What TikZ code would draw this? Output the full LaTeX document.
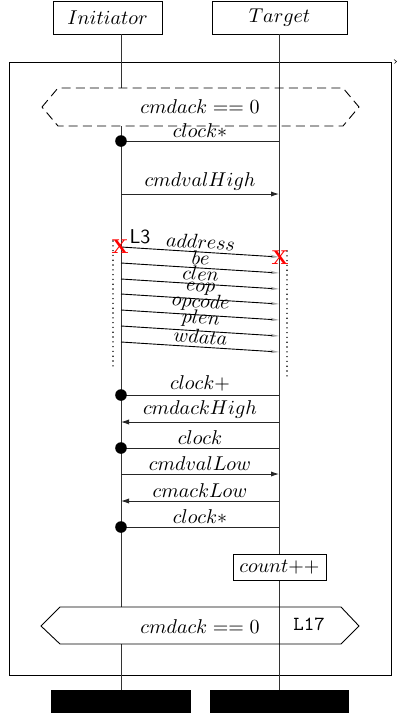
\documentclass[tikz,border=0pt]{standalone}
\usetikzlibrary{arrows.meta}
\begin{document}
\begin{tikzpicture}[x=0.5pt,y=-0.5pt,
  objbox/.style={draw, line width=0.4pt, minimum height=16.5pt, inner sep=0pt},
  life/.style={line width=0.45pt, draw=black!80},
  msg/.style={line width=0.45pt, draw=black!85},
  sync/.style={msg, -{Latex[length=4pt,width=2.6pt]}},
  fan/.style={line width=0.45pt, -{Stealth[length=4.5pt,width=1.8pt,color=black!35,fill=black!35]}},
  lbl/.style={midway, anchor=south, inner sep=1.5pt},
  hit/.style={circle, fill=black, minimum size=5.8pt, inner sep=0pt},
  cross/.style={text=red, font=\bfseries, inner sep=0pt},
  guard/.style={line width=0.45pt},
  dotline/.style={line width=0.8pt, line cap=round, dash pattern=on 0pt off 2.4pt},
  endbar/.style={fill=black, minimum height=11.5pt, inner sep=0pt}]
\useasboundingbox (0,0) rectangle (398,714);

% participants
\node[objbox, minimum width=54.5pt] (init) at (107.5,17.5) {$Initiator$};
\node[objbox, minimum width=67.5pt] (targ) at (279.5,17.5) {$Target$};

% enclosing frame
\node[draw, line width=0.4pt, minimum width=191pt, minimum height=306.5pt, inner sep=0pt] (frame) at (200,368.5) {};
\draw[line width=0.3pt] (394,59.5) -- (396.5,61.5) -- (394.5,63.5);

% lifeline anchor points
\coordinate (iTop) at (121,34);
\coordinate (tTop) at (279,34);
\coordinate (iG1a) at (121,88);
\coordinate (iG1b) at (121,126);
\coordinate (iG2a) at (121,607);
\coordinate (iG2b) at (121,644);
\coordinate (tCa) at (279,554);
\coordinate (tCb) at (279,580);
\coordinate (iEnd) at (121,690);
\coordinate (tEnd) at (279,690);

\draw[life] (iTop) -- (iG1a);
\draw[life] (iG1b) -- (iG2a);
\draw[life] (iG2b) -- (iEnd);
\draw[life] (tTop) -- (tCa);
\draw[life] (tCb) -- (tEnd);

% loop guard (dashed)
\draw[guard, dash pattern=on 4.5pt off 2.6pt] (42,107) -- (58,88) -- (343,88) -- (359,107) -- (343,126) -- (58,126) -- cycle;
\node (g1) at (200,107) {$cmdack == 0$};

% first clock
\coordinate (i1) at (121,141); \coordinate (t1) at (279,141);
\draw[msg] (t1) -- node[lbl]{$clock*$} (i1);
\node[hit] (d1) at (i1) {};

% cmdvalHigh
\coordinate (i2) at (121,194); \coordinate (t2) at (279,194);
\draw[sync] (i2) -- node[lbl]{$cmdvalHigh$} (t2);

% parallel signals
\coordinate (s1a) at (121,247); \coordinate (s1b) at (279,257);
\coordinate (s2a) at (121,263); \coordinate (s2b) at (279,273);
\coordinate (s3a) at (121,279); \coordinate (s3b) at (279,289);
\coordinate (s4a) at (121,294); \coordinate (s4b) at (279,304);
\coordinate (s5a) at (121,310); \coordinate (s5b) at (279,320);
\coordinate (s6a) at (121,326); \coordinate (s6b) at (279,336);
\coordinate (s7a) at (121,342); \coordinate (s7b) at (279,352);
\draw[fan] (s1a) -- node[lbl, sloped]{$address$} (s1b);
\draw[fan] (s2a) -- node[lbl, sloped]{$be$} (s2b);
\draw[fan] (s3a) -- node[lbl, sloped]{$clen$} (s3b);
\draw[fan] (s4a) -- node[lbl, sloped]{$eop$} (s4b);
\draw[fan] (s5a) -- node[lbl, sloped]{$opcode$} (s5b);
\draw[fan] (s6a) -- node[lbl, sloped]{$plen$} (s6b);
\draw[fan] (s7a) -- node[lbl, sloped]{$wdata$} (s7b);

\coordinate (dl1) at (113,241); \coordinate (dl2) at (113,367);
\coordinate (dr1) at (287,251); \coordinate (dr2) at (287,377);
\draw[dotline] (dl1) -- (dl2);
\draw[dotline] (dr1) -- (dr2);
\node[cross] (xl) at (120,247) {X};
\node[cross] (xr) at (280,258) {X};
\node[font=\sffamily, inner sep=0pt] (l3) at (140,237) {L3};

% handshake
\coordinate (i3) at (121,395); \coordinate (t3) at (279,395);
\draw[msg] (t3) -- node[lbl]{$clock+$} (i3);
\node[hit] (d3) at (i3) {};

\coordinate (i4) at (121,422); \coordinate (t4) at (279,422);
\draw[sync] (t4) -- node[lbl]{$cmdackHigh$} (i4);

\coordinate (i5) at (121,448); \coordinate (t5) at (279,448);
\draw[msg] (t5) -- node[lbl]{$clock$} (i5);
\node[hit] (d5) at (i5) {};

\coordinate (i6) at (121,474); \coordinate (t6) at (279,474);
\draw[sync] (i6) -- node[lbl]{$cmdvalLow$} (t6);

\coordinate (i7) at (121,501); \coordinate (t7) at (279,501);
\draw[sync] (t7) -- node[lbl]{$cmackLow$} (i7);

\coordinate (i8) at (121,527); \coordinate (t8) at (279,527);
\draw[msg] (t8) -- node[lbl]{$clock*$} (i8);
\node[hit] (d8) at (i8) {};

% action
\node[objbox, minimum width=46.5pt, minimum height=13pt] (cnt) at (279.5,567) {$count{+}{+}$};

% closing guard
\draw[guard] (41,626) -- (60,607) -- (341,607) -- (359,626) -- (341,644) -- (60,644) -- cycle;
\node (g2) at (200,627) {$cmdack == 0$};
\node[font=\ttfamily, inner sep=0pt] (g2l) at (309,624) {L17};

% lifeline ends
\node[endbar, minimum width=70pt] (ibar) at (121,701.5) {};
\node[endbar, minimum width=69.5pt] (tbar) at (279.5,701.5) {};
\end{tikzpicture}
\end{document}
